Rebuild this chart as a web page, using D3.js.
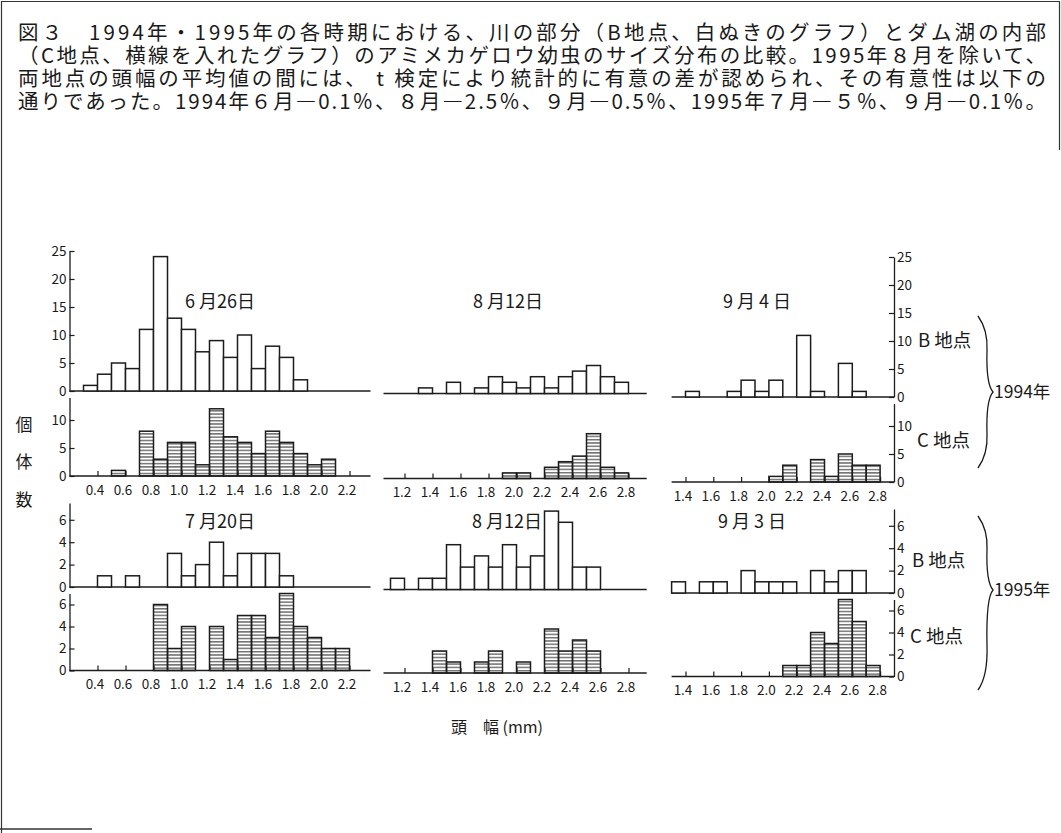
<!DOCTYPE html>
<html><head><meta charset="utf-8">
<script src="https://cdn.jsdelivr.net/npm/d3@7"></script>
<style>
html,body{margin:0;padding:0;background:#fff;}
svg{display:block;}
text{font-family:"Noto Sans CJK JP","Noto Sans",sans-serif;fill:#1a1a1a;}
</style></head><body>
<svg id="chart" width="1061" height="833"></svg>
<script>
// ---- text ----
const captionLines = [
  "図３　1994年・1995年の各時期における、川の部分（B地点、白ぬきのグラフ）とダム湖の内部",
  "（C地点、横線を入れたグラフ）のアミメカゲロウ幼虫のサイズ分布の比較。1995年８月を除いて、",
  "両地点の頭幅の平均値の間には、 t 検定により統計的に有意の差が認められ、その有意性は以下の",
  "通りであった。1994年６月―0.1％、８月―2.5％、９月―0.5％、1995年７月―５％、９月―0.1％。"
];
const dateLabels = [["6 月26日", "8 月12日", "9 月 4 日"], ["7 月20日", "8 月12日", "9 月 3 日"]];
const siteLabels = ["B 地点", "C 地点", "B 地点", "C 地点"];
const yearLabels = ["1994年", "1995年"];
const yTitleChars = ["個", "体", "数"];
const xTitle = "頭　幅 (mm)";

// ---- tick labels ----
const xTicks = [
  [0.4, 0.6, 0.8, 1.0, 1.2, 1.4, 1.6, 1.8, 2.0, 2.2],
  [1.2, 1.4, 1.6, 1.8, 2.0, 2.2, 2.4, 2.6, 2.8],
  [1.4, 1.6, 1.8, 2.0, 2.2, 2.4, 2.6, 2.8]
];
const yTicks = [[0, 5, 10, 15, 20, 25], [0, 5, 10], [0, 2, 4, 6], [0, 2, 4, 6]];

// ---- head-width counts, one value per 0.1 mm class ----
// lower bound (mm) of the first class in each panel: rows = 1994B, 1994C, 1995B, 1995C
const classStart = [
  [0.3, 1.3, 1.4],
  [0.5, 1.9, 2.0],
  [0.4, 1.1, 1.3],
  [0.8, 1.4, 2.1]
];
const jun1994B = [1, 3, 5, 4, 11, 24, 13, 11, 7, 9, 6, 10, 4, 8, 6, 2];
const aug1994B = [1, 0, 2, 0, 1, 3, 2, 1, 3, 1, 3, 4, 5, 3, 2];
const sep1994B = [1, 0, 0, 1, 3, 1, 3, 0, 11, 1, 0, 6, 1];
const jun1994C = [1, 0, 8, 3, 6, 6, 2, 12, 7, 6, 4, 8, 6, 4, 2, 3];
const aug1994C = [1, 1, 0, 2, 3, 4, 8, 2, 1];
const sep1994C = [1, 3, 0, 4, 1, 5, 3, 3];
const jul1995B = [1, 0, 1, 0, 0, 3, 1, 2, 4, 1, 3, 3, 3, 1];
const aug1995B = [1, 0, 1, 1, 4, 2, 3, 2, 4, 2, 3, 7, 6, 2, 2];
const sep1995B = [1, 0, 1, 1, 0, 2, 1, 1, 1, 0, 2, 1, 2, 2];
const jul1995C = [6, 2, 4, 0, 4, 1, 5, 5, 3, 7, 4, 3, 2, 2];
const aug1995C = [2, 1, 0, 1, 2, 0, 1, 0, 4, 2, 3, 2];
const sep1995C = [1, 1, 4, 3, 7, 5, 1];
const panelCounts = [
  [jun1994B, aug1994B, sep1994B],
  [jun1994C, aug1994C, sep1994C],
  [jul1995B, aug1995B, sep1995B],
  [jul1995C, aug1995C, sep1995C]
];

// ---- layout ----
const svg = d3.select("#chart");
const ink = "#1c1c1c";

// horizontal scales, one per column (mm -> px)
const xDomains = [[0.2, 2.35], [1.05, 2.93], [1.3, 2.9]];
const xAnchors = [[0.4, 97.5, 140], [1.2, 404.5, 140], [1.4, 685.5, 139]];
const xScales = xDomains.map((d, i) => {
  const [v, px, k] = xAnchors[i];
  return d3.scaleLinear().domain(d).range(d.map(t => px + (t - v) * k));
});

// vertical scales, one per row (count -> px)
const rowBase = [391, 476, 587, 670.5];
const rowUnit = [5.6, 5.6, 11.2, 11];
const rowTop = [25, 14, 7.5, 7];
const yScales = rowBase.map((b, i) =>
  d3.scaleLinear().domain([0, rowTop[i]]).range([b, b - rowTop[i] * rowUnit[i]]));
const colShift = [0, 2.5, 6];

// hatch fill for the reservoir (C) site
const defs = svg.append("defs");
defs.append("pattern")
  .attr("id", "hatch").attr("patternUnits", "userSpaceOnUse")
  .attr("width", 6).attr("height", 3.3)
  .append("line").attr("x1", 0).attr("x2", 6).attr("y1", 1.6).attr("y2", 1.6)
  .attr("stroke", "#2a2a2a").attr("stroke-width", 1);

// frame
svg.append("path").attr("d", "M1.5,833 V1.5 H1059.5 V150")
  .attr("fill", "none").attr("stroke", "#333").attr("stroke-width", 1.2);
svg.append("line").attr("x1", 0).attr("x2", 92).attr("y1", 829).attr("y2", 829)
  .attr("stroke", "#333").attr("stroke-width", 1.5);

// caption: one text block, a justified tspan per line
svg.append("text").attr("font-size", 20.5)
  .selectAll("tspan").data(captionLines).join("tspan")
  .attr("x", 18).attr("y", (d, i) => 40 + i * 23)
  .attr("textLength", 1028).attr("lengthAdjust", "spacing")
  .text(d => d);

// panels
panelCounts.forEach((row, r) => {
  row.forEach((counts, c) => {
    const x = xScales[c];
    const y = yScales[r];
    const g = svg.append("g").attr("transform", `translate(0,${colShift[c]})`);
    const bins = counts.map((n, i) => ({
      lo: Math.round((classStart[r][c] + i * 0.1) * 10) / 10, n
    })).filter(d => d.n > 0);

    // baseline
    g.append("line")
      .attr("x1", x(xDomains[c][0])).attr("x2", x(xDomains[c][1]))
      .attr("y1", y(0)).attr("y2", y(0))
      .attr("stroke", ink).attr("stroke-width", 1.4);

    g.selectAll("rect.bar").data(bins).join("rect")
      .attr("class", "bar")
      .attr("x", d => x(d.lo))
      .attr("width", d => x(d.lo + 0.1) - x(d.lo))
      .attr("y", d => y(d.n))
      .attr("height", d => y(0) - y(d.n))
      .attr("fill", r % 2 === 1 ? "url(#hatch)" : "#fff")
      .attr("stroke", ink).attr("stroke-width", 1.5);

    // size ticks under the C-site panels
    if (r % 2 === 1) {
      const ax = g.append("g").attr("transform", `translate(0,${y(0)})`)
        .call(d3.axisBottom(x).tickValues(xTicks[c]).tickSize(-5).tickSizeOuter(0)
          .tickPadding(9).tickFormat(d3.format(".1f")));
      ax.select(".domain").remove();
      ax.selectAll("line").attr("stroke", ink).attr("stroke-width", 1.2);
      ax.selectAll("text").attr("font-size", 13.5).attr("dx", -3)
        .attr("font-family", "'Noto Sans CJK JP', sans-serif").attr("fill", ink);
    }

    // count axes on the outer panels
    if (c === 0 || c === 2) {
      const axisFn = c === 0 ? d3.axisLeft(y) : d3.axisRight(y);
      const xa = c === 0 ? x(xDomains[0][0]) : x(xDomains[2][1]);
      const ay = g.append("g").attr("transform", `translate(${xa},0)`)
        .call(axisFn.tickValues(yTicks[r]).tickSize(-5).tickSizeOuter(0).tickPadding(3)
          .tickFormat(d3.format("d")));
      ay.select(".domain").attr("stroke", ink).attr("stroke-width", 1.3);
      ay.selectAll("line").attr("stroke", ink).attr("stroke-width", 1.2);
      ay.selectAll("text").attr("font-size", 13.5)
        .attr("font-family", "'Noto Sans CJK JP', sans-serif").attr("fill", ink);
    }
  });
});

// sampling dates
const dateY = [302, 522];
const dateX = [[220, 508, 757], [220, 507, 752]];
dateLabels.forEach((row, i) => row.forEach((t, c) => {
  svg.append("text").attr("x", dateX[i][c]).attr("y", dateY[i])
    .attr("dy", "0.35em").attr("text-anchor", "middle").attr("font-size", 18)
    .text(t);
}));

// site labels at the right
const siteX = [918, 917, 912, 910];
const siteY = [341, 441, 561, 637];
siteLabels.forEach((t, i) => {
  svg.append("text").attr("x", siteX[i]).attr("y", siteY[i]).attr("dy", "0.35em")
    .attr("font-size", 18.5).text(t);
});

// year braces and labels
const braceSpans = [[316, 392, 468], [516, 590, 690]];
braceSpans.forEach(([t, m, b], i) => {
  const p = d3.path();
  p.moveTo(978, t);
  p.quadraticCurveTo(988, t + 14, 987, t + (m - t) * 0.45);
  p.quadraticCurveTo(986, m - 8, 993, m);
  p.quadraticCurveTo(986, m + 8, 987, m + (b - m) * 0.55);
  p.quadraticCurveTo(988, b - 14, 978, b);
  svg.append("path").attr("d", p.toString()).attr("fill", "none")
    .attr("stroke", ink).attr("stroke-width", 1.3);
  svg.append("text").attr("x", 994).attr("y", m).attr("dy", "0.35em")
    .attr("font-size", 17.5).text(yearLabels[i]);
});

// axis titles
svg.append("g").selectAll("text").data(yTitleChars).join("text")
  .attr("x", 24).attr("y", (d, i) => [425, 462, 500][i]).attr("dy", "0.35em")
  .attr("text-anchor", "middle").attr("font-size", 17).text(d => d);
svg.append("text").attr("x", 497).attr("y", 727).attr("dy", "0.35em")
  .attr("text-anchor", "middle").attr("font-size", 16).text(xTitle);
</script>
</body></html>
